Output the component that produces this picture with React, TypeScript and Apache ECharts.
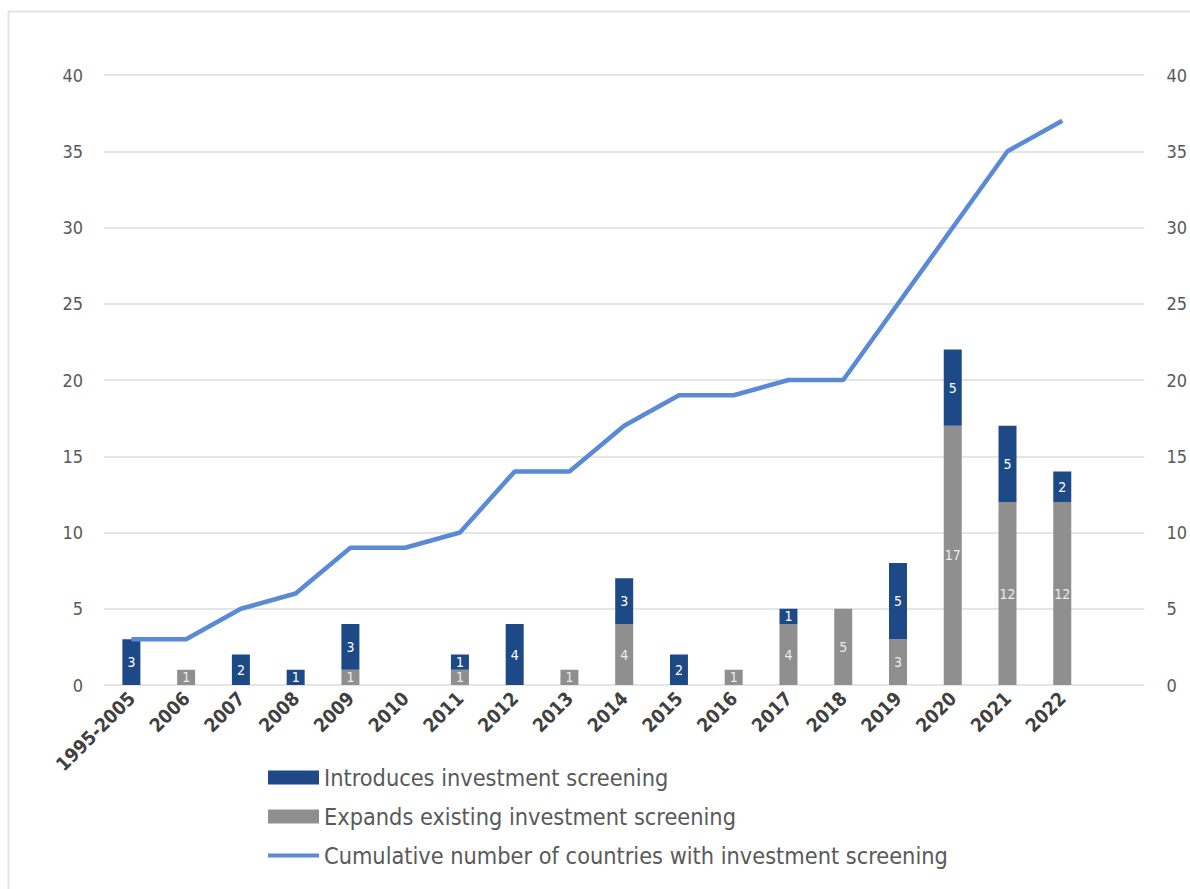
import React, { useEffect, useRef } from "react";
import * as echarts from "echarts";

const categories = [
  "1995-2005", "2006", "2007", "2008", "2009", "2010", "2011", "2012", "2013",
  "2014", "2015", "2016", "2017", "2018", "2019", "2020", "2021", "2022",
];
const expandsValues = [0, 1, 0, 0, 1, 0, 1, 0, 1, 4, 0, 1, 4, 5, 3, 17, 12, 12];
const introducesValues = [3, 0, 2, 1, 3, 0, 1, 4, 0, 3, 2, 0, 1, 0, 5, 5, 5, 2];
const cumulativeValues = [3, 3, 5, 6, 9, 9, 10, 14, 14, 17, 19, 19, 20, 20, 25, 30, 35, 37];
const yTicks = [0, 5, 10, 15, 20, 25, 30, 35, 40];

const FONT = "'Liberation Sans Narrow', 'DejaVu Sans Condensed', 'Liberation Sans', sans-serif";

export default function App() {
  const ref = useRef<HTMLDivElement>(null);
  useEffect(() => {
    if (!ref.current) return;
    const chart = echarts.init(ref.current, undefined, { renderer: "svg" });
    // one empty trailing slot: the plot area extends past the last category
    const axisCats = [...categories, ""];
    const toData = (arr: number[]) => arr.map((v) => (v === 0 ? null : v));
    chart.setOption({
      animation: false,
      backgroundColor: "#ffffff",
      textStyle: { fontFamily: FONT },
      graphic: [
        {
          type: "rect",
          shape: { x: 8.5, y: 11.5, width: 1300, height: 1000 },
          style: { fill: "none", stroke: "#e3e3e3", lineWidth: 2 },
          silent: true,
        },
      ],
      grid: { left: 104, right: 40, top: 75, bottom: 204, containLabel: false },
      legend: {
        orient: "vertical",
        left: 261,
        top: 761,
        itemWidth: 51,
        itemHeight: 14,
        itemGap: 16,
        textStyle: { fontFamily: FONT, fontSize: 23.3, color: "#595959" },
        data: [
          { name: "Introduces investment screening", icon: "rect" },
          { name: "Expands existing investment screening", icon: "rect" },
          {
            name: "Cumulative number of countries with investment screening",
            itemStyle: { color: "rgba(0,0,0,0)", borderWidth: 0 },
            lineStyle: { width: 4, color: "#5a8ad6" },
          },
        ],
      },
      xAxis: {
        type: "category",
        data: axisCats,
        boundaryGap: true,
        axisLine: { show: false },
        axisTick: { show: false },
        axisLabel: {
          interval: 0,
          rotate: 45,
          margin: 10,
          fontFamily: FONT,
          fontSize: 19,
          fontWeight: "bold",
          color: "#404040",
        },
      },
      yAxis: [
        {
          type: "value",
          min: 0,
          max: 40,
          interval: 5,
          axisLine: { show: false },
          axisTick: { show: false },
          splitLine: { lineStyle: { color: "#dcdcdc", width: 1.5 } },
          axisLabel: {
            margin: 21,
            fontFamily: FONT,
            fontSize: 18,
            color: "#595959",
            customValues: yTicks,
          },
        },
        {
          type: "value",
          min: 0,
          max: 40,
          interval: 5,
          position: "right",
          axisLine: { show: false },
          axisTick: { show: false },
          splitLine: { show: false },
          axisLabel: {
            margin: 22,
            fontFamily: FONT,
            fontSize: 18,
            color: "#595959",
          },
        },
      ],
      series: [
        {
          name: "Expands existing investment screening",
          type: "bar",
          stack: "total",
          barWidth: 18,
          data: toData(expandsValues),
          itemStyle: { color: "#8f8f8f" },
          label: {
            show: true,
            position: "inside",
            color: "#ececec",
            fontFamily: FONT,
            fontSize: 14,
          },
        },
        {
          name: "Introduces investment screening",
          type: "bar",
          stack: "total",
          barWidth: 18,
          data: toData(introducesValues),
          itemStyle: { color: "#1d4a86" },
          label: {
            show: true,
            position: "inside",
            color: "#ffffff",
            fontFamily: FONT,
            fontSize: 14,
          },
        },
        {
          name: "Cumulative number of countries with investment screening",
          type: "line",
          yAxisIndex: 1,
          data: cumulativeValues,
          symbol: "none",
          lineStyle: { color: "#5a8ad6", width: 4.5 },
          itemStyle: { color: "#5a8ad6" },
          z: 5,
        },
      ],
    });
    return () => chart.dispose();
  }, []);
  return (
    <div
      ref={ref}
      style={{ position: "fixed", left: 0, top: 0, width: 1190, height: 889 }}
    />
  );
}
